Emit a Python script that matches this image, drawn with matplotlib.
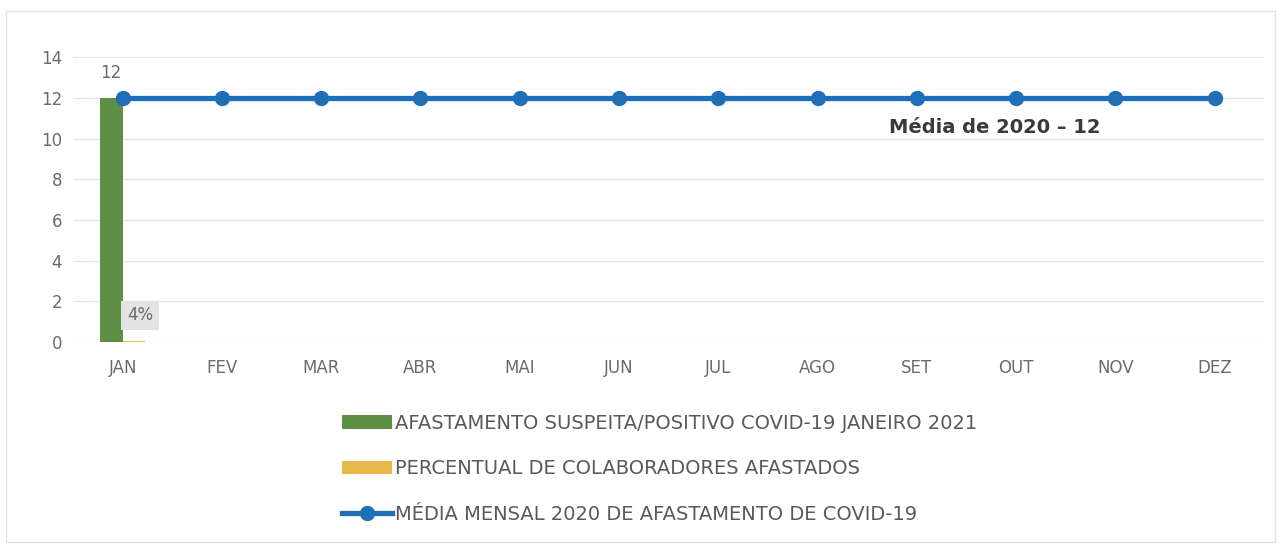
import numpy as np
import matplotlib.pyplot as plt

meses = ['JAN', 'FEV', 'MAR', 'ABR', 'MAI', 'JUN', 'JUL', 'AGO', 'SET', 'OUT', 'NOV', 'DEZ']
afastamento_jan2021 = [12, 0, 0, 0, 0, 0, 0, 0, 0, 0, 0, 0]
percentual_afastados = [0.04, 0, 0, 0, 0, 0, 0, 0, 0, 0, 0, 0]
media_mensal_2020 = [12, 12, 12, 12, 12, 12, 12, 12, 12, 12, 12, 12]

grey_txt = '#6b6b6b'
fig = plt.figure(figsize=(12.81, 5.47), dpi=100)
ax = fig.add_axes([0.057, 0.375, 0.93, 0.52])

x = np.arange(len(meses))
w = 0.23
b1 = ax.bar(x[:1] - w / 2, afastamento_jan2021[:1], w, color='#5e8f46',
            label='AFASTAMENTO SUSPEITA/POSITIVO COVID-19 JANEIRO 2021', zorder=2)
b2 = ax.bar(x[:1] + w / 2, percentual_afastados[:1], w, color='#e8b84a',
            label='PERCENTUAL DE COLABORADORES AFASTADOS', zorder=2)
l1, = ax.plot(x, media_mensal_2020, color='#1f6eb8', lw=3.8, marker='o', ms=10,
              label='MÉDIA MENSAL 2020 DE AFASTAMENTO DE COVID-19', zorder=3)

# rótulos
ax.text(x[0] - w / 2, afastamento_jan2021[0] + 0.8, '12', ha='center', va='bottom',
        fontsize=12, color=grey_txt)
ax.text(x[0] + w / 2 + 0.06, 1.3, '4%', ha='center', va='center', fontsize=12,
        color=grey_txt, bbox=dict(boxstyle='square,pad=0.35', fc='#e3e3e3', ec='none'))
ax.text(8.78, 10.55, 'Média de 2020 – 12', ha='center', va='center', fontsize=14,
        fontweight='bold', color='#3a3a3a')

ax.set_xlim(-0.5, 11.5)
ax.set_ylim(0, 14)
ax.set_yticks(range(0, 15, 2))
ax.set_xticks(x)
ax.set_xticklabels(meses)
ax.tick_params(length=0, labelsize=12, labelcolor=grey_txt)
ax.tick_params(axis='x', pad=12)
ax.tick_params(axis='y', pad=8)
ax.grid(axis='y', color='#e6e6e6', lw=1)
ax.set_axisbelow(True)
for s in ax.spines.values():
    s.set_visible(False)

leg = fig.legend(handles=[b1, b2, l1], loc='upper left', bbox_to_anchor=(0.253, 0.275),
                 ncol=1, frameon=False, fontsize=14, labelspacing=1.35,
                 handlelength=2.6, handletextpad=0.15)
for t in leg.get_texts():
    t.set_color('#595959')

fig.patches.append(plt.Rectangle((0.005, 0.01), 0.99, 0.97, transform=fig.transFigure,
                                 fill=False, ec='#e2e2e2', lw=1))
fig.savefig('out.png', dpi=100)
